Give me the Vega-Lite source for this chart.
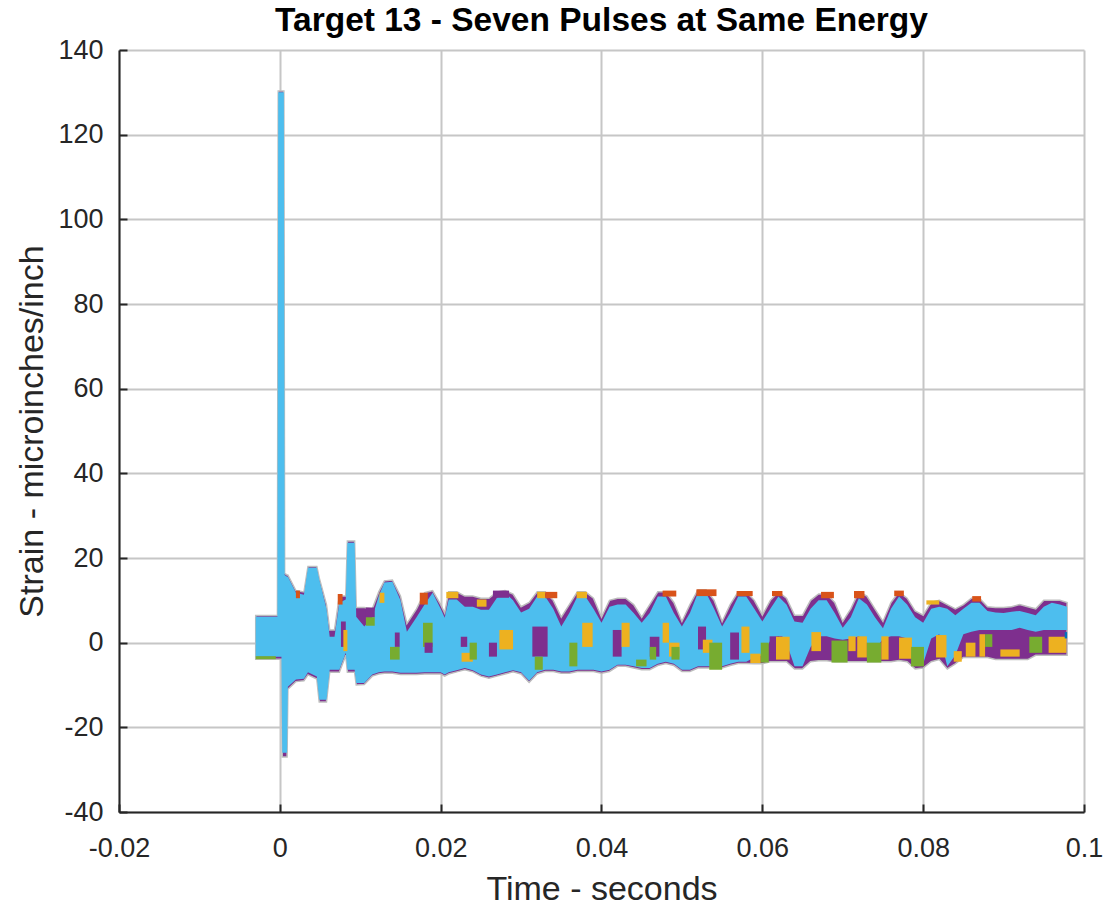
{
  "$schema": "https://vega.github.io/schema/vega-lite/v6.json",
  "width": 965,
  "height": 762,
  "autosize": {"type": "none"},
  "padding": {"left": 119, "top": 50, "right": 23, "bottom": 97},
  "background": "white",
  "title": {"text": "Target 13 - Seven Pulses at Same Energy", "font": "Liberation Sans", "fontSize": 33.5, "fontWeight": "bold", "color": "#000000", "anchor": "middle", "offset": -2},
  "config": {
    "view": {"stroke": null},
    "axis": {
      "labelFont": "Liberation Sans", "labelFontSize": 27, "labelColor": "#262626",
      "titleFont": "Liberation Sans", "titleFontSize": 34, "titleFontWeight": "normal", "titleColor": "#262626",
      "domainColor": "#262626", "domainWidth": 2, "tickColor": "#262626", "tickWidth": 2,
      "gridColor": "#c6c6c6", "gridWidth": 2, "gridOpacity": 1, "labelFlush": false, "labelOverlap": false
    }
  },
  "datasets": {
    "env": [
      {"t": -0.003, "T": 6.1, "B": -3.3, "U": 6.4, "L": -3.9},
      {"t": -0.002, "T": 6.1, "B": -3.3, "U": 6.4, "L": -3.9},
      {"t": -0.001, "T": 6.1, "B": -3.3, "U": 6.4, "L": -3.9},
      {"t": -0.0003, "T": 6.1, "B": -3.3, "U": 6.4, "L": -3.9},
      {"t": -0.0002, "T": 130, "B": -3.3, "U": 130.3, "L": -3.9},
      {"t": 0.0002, "T": 130, "B": -3.3, "U": 130.3, "L": -3.9},
      {"t": 0.0003, "T": 130, "B": -26, "U": 130.3, "L": -27},
      {"t": 0.0005, "T": 130, "B": -26, "U": 130.3, "L": -27},
      {"t": 0.0006, "T": 16, "B": -26, "U": 16.4, "L": -27},
      {"t": 0.0009, "T": 15.6, "B": -26, "U": 16, "L": -27},
      {"t": 0.001, "T": 15.6, "B": -10.4, "U": 16, "L": -11},
      {"t": 0.002, "T": 11.8, "B": -8.7, "U": 12.3, "L": -9.2},
      {"t": 0.003, "T": 11.3, "B": -8.5, "U": 12, "L": -9},
      {"t": 0.0035, "T": 17.7, "B": -7, "U": 18, "L": -7.6},
      {"t": 0.0046, "T": 17.7, "B": -8, "U": 18, "L": -8.6},
      {"t": 0.0049, "T": 14.9, "B": -13.5, "U": 15.3, "L": -14},
      {"t": 0.0058, "T": 8, "B": -13.5, "U": 9, "L": -14},
      {"t": 0.0062, "T": 1.4, "B": -6.4, "U": 3, "L": -7},
      {"t": 0.0068, "T": 1.4, "B": -6.4, "U": 3, "L": -7},
      {"t": 0.0074, "T": 9.4, "B": -6.4, "U": 11, "L": -7},
      {"t": 0.0082, "T": 10.2, "B": -2.4, "U": 11, "L": -3},
      {"t": 0.0084, "T": 23.6, "B": -6.4, "U": 24, "L": -7},
      {"t": 0.0093, "T": 23.6, "B": -6.4, "U": 24, "L": -7},
      {"t": 0.0095, "T": 6.1, "B": -9.5, "U": 8.3, "L": -10},
      {"t": 0.0105, "T": 3.8, "B": -9.5, "U": 8.3, "L": -9.9},
      {"t": 0.0115, "T": 6, "B": -7.5, "U": 8, "L": -7.9},
      {"t": 0.0123, "T": 11, "B": -7, "U": 12, "L": -7.4},
      {"t": 0.013, "T": 14.2, "B": -6.8, "U": 14.6, "L": -7.2},
      {"t": 0.014, "T": 14.4, "B": -6.8, "U": 14.8, "L": -7.2},
      {"t": 0.015, "T": 10, "B": -7.1, "U": 11, "L": -7.5},
      {"t": 0.0158, "T": 2.6, "B": -7.1, "U": 4.5, "L": -7.5},
      {"t": 0.017, "T": 6, "B": -7.1, "U": 8, "L": -7.5},
      {"t": 0.018, "T": 9, "B": -7, "U": 11.8, "L": -7.4},
      {"t": 0.019, "T": 11.8, "B": -7, "U": 12.3, "L": -7.4},
      {"t": 0.02, "T": 8, "B": -7, "U": 9, "L": -7.4},
      {"t": 0.0205, "T": 5.9, "B": -7.5, "U": 7, "L": -7.9},
      {"t": 0.021, "T": 10.2, "B": -7, "U": 12, "L": -7.4},
      {"t": 0.022, "T": 10.2, "B": -6.5, "U": 12, "L": -6.9},
      {"t": 0.023, "T": 8.5, "B": -6, "U": 11, "L": -6.4},
      {"t": 0.024, "T": 8.5, "B": -6.5, "U": 11, "L": -6.9},
      {"t": 0.025, "T": 7.8, "B": -7.5, "U": 10.5, "L": -7.9},
      {"t": 0.026, "T": 7.8, "B": -8, "U": 10.5, "L": -8.4},
      {"t": 0.027, "T": 10.6, "B": -7.5, "U": 12, "L": -7.9},
      {"t": 0.028, "T": 11.8, "B": -7, "U": 12.3, "L": -7.4},
      {"t": 0.029, "T": 10, "B": -6.5, "U": 11.5, "L": -6.9},
      {"t": 0.03, "T": 7.1, "B": -7, "U": 8.5, "L": -7.4},
      {"t": 0.031, "T": 8, "B": -9, "U": 9.5, "L": -9.4},
      {"t": 0.032, "T": 10.9, "B": -7, "U": 12, "L": -7.4},
      {"t": 0.033, "T": 10.9, "B": -6.4, "U": 12, "L": -6.8},
      {"t": 0.034, "T": 8, "B": -6.4, "U": 10, "L": -6.8},
      {"t": 0.035, "T": 3.8, "B": -6.8, "U": 6, "L": -7.2},
      {"t": 0.036, "T": 7, "B": -6.8, "U": 9, "L": -7.2},
      {"t": 0.037, "T": 10.9, "B": -6.4, "U": 12, "L": -6.8},
      {"t": 0.038, "T": 10.9, "B": -6.4, "U": 12, "L": -6.8},
      {"t": 0.039, "T": 8, "B": -6.4, "U": 10.5, "L": -6.8},
      {"t": 0.04, "T": 4.7, "B": -6.8, "U": 6, "L": -7.2},
      {"t": 0.041, "T": 8.5, "B": -6.4, "U": 10, "L": -6.8},
      {"t": 0.042, "T": 9, "B": -5.2, "U": 10.5, "L": -5.6},
      {"t": 0.043, "T": 9, "B": -5.2, "U": 10.5, "L": -5.6},
      {"t": 0.044, "T": 7, "B": -5.6, "U": 9, "L": -6},
      {"t": 0.045, "T": 4.7, "B": -6, "U": 6, "L": -6.4},
      {"t": 0.046, "T": 7, "B": -6, "U": 9, "L": -6.4},
      {"t": 0.047, "T": 10.9, "B": -5, "U": 12, "L": -5.4},
      {"t": 0.048, "T": 10.9, "B": -4.5, "U": 12, "L": -4.9},
      {"t": 0.049, "T": 7, "B": -5, "U": 9.5, "L": -5.4},
      {"t": 0.05, "T": 3.8, "B": -6.4, "U": 5, "L": -6.8},
      {"t": 0.051, "T": 7, "B": -6.4, "U": 9, "L": -6.8},
      {"t": 0.052, "T": 11.8, "B": -5.6, "U": 12.5, "L": -6},
      {"t": 0.053, "T": 11.8, "B": -5.6, "U": 12.5, "L": -6},
      {"t": 0.054, "T": 8, "B": -5.6, "U": 10, "L": -6},
      {"t": 0.055, "T": 3.8, "B": -5.6, "U": 5, "L": -6},
      {"t": 0.056, "T": 7, "B": -5, "U": 9, "L": -5.4},
      {"t": 0.057, "T": 10.9, "B": -4.5, "U": 12, "L": -4.9},
      {"t": 0.058, "T": 10.9, "B": -4.5, "U": 12, "L": -4.9},
      {"t": 0.059, "T": 8, "B": -3.5, "U": 10, "L": -5},
      {"t": 0.06, "T": 5, "B": -3, "U": 6.5, "L": -5},
      {"t": 0.061, "T": 8, "B": 0.5, "U": 10, "L": -4.5},
      {"t": 0.062, "T": 10.9, "B": 1.5, "U": 12, "L": -4.5},
      {"t": 0.063, "T": 9, "B": 0, "U": 10.5, "L": -4.5},
      {"t": 0.064, "T": 5, "B": -5.6, "U": 6.5, "L": -6.2},
      {"t": 0.065, "T": 4.7, "B": -5.6, "U": 6.5, "L": -6.2},
      {"t": 0.066, "T": 8, "B": -1, "U": 10, "L": -4.5},
      {"t": 0.067, "T": 10, "B": 1.5, "U": 11.5, "L": -4.3},
      {"t": 0.068, "T": 10, "B": 1.5, "U": 11.5, "L": -4.3},
      {"t": 0.069, "T": 7, "B": 1, "U": 9.5, "L": -4.5},
      {"t": 0.07, "T": 3.5, "B": 0.7, "U": 5, "L": -4.5},
      {"t": 0.071, "T": 6, "B": 1, "U": 8, "L": -4.5},
      {"t": 0.072, "T": 10.5, "B": 1.5, "U": 12, "L": -4.5},
      {"t": 0.073, "T": 9, "B": 0, "U": 11, "L": -4.5},
      {"t": 0.074, "T": 6, "B": -2, "U": 8, "L": -4.5},
      {"t": 0.075, "T": 3.4, "B": 1, "U": 5, "L": -4.5},
      {"t": 0.076, "T": 8, "B": 1.5, "U": 9.5, "L": -4.5},
      {"t": 0.077, "T": 10.9, "B": 1.5, "U": 12, "L": -4.2},
      {"t": 0.078, "T": 9, "B": 1, "U": 10.5, "L": -4.5},
      {"t": 0.079, "T": 6, "B": -5.6, "U": 7.5, "L": -6.2},
      {"t": 0.08, "T": 4.7, "B": -5, "U": 6.5, "L": -6},
      {"t": 0.081, "T": 8, "B": 1, "U": 9.5, "L": -4.5},
      {"t": 0.082, "T": 8.5, "B": 2, "U": 10, "L": -4},
      {"t": 0.083, "T": 8, "B": -5.6, "U": 9, "L": -6.2},
      {"t": 0.084, "T": 6.5, "B": -3, "U": 8, "L": -5},
      {"t": 0.085, "T": 8, "B": 2, "U": 9, "L": -3.5},
      {"t": 0.086, "T": 9.4, "B": 2.6, "U": 10.5, "L": -3.5},
      {"t": 0.087, "T": 9.4, "B": 3, "U": 10.5, "L": -3.5},
      {"t": 0.088, "T": 7.5, "B": 3, "U": 8.5, "L": -3.5},
      {"t": 0.089, "T": 7.1, "B": 3, "U": 8.3, "L": -4},
      {"t": 0.09, "T": 7, "B": 3, "U": 8.3, "L": -4},
      {"t": 0.091, "T": 7.3, "B": 3, "U": 8.5, "L": -4},
      {"t": 0.092, "T": 7.5, "B": 3.5, "U": 9, "L": -4},
      {"t": 0.093, "T": 7, "B": 3, "U": 8.5, "L": -4},
      {"t": 0.094, "T": 6.5, "B": 2.6, "U": 8, "L": -3},
      {"t": 0.095, "T": 8.5, "B": 3, "U": 10, "L": -3},
      {"t": 0.096, "T": 9.4, "B": 3, "U": 10, "L": -3},
      {"t": 0.097, "T": 9, "B": 3, "U": 10, "L": -3},
      {"t": 0.0979, "T": 8.5, "B": 3, "U": 9.5, "L": -3}
    ],
    "isl": [
      {"a": -0.003, "b": -0.0005, "lo": -3.9, "hi": -3.2, "c": "G"},
      {"a": 0.002, "b": 0.0025, "lo": 10.5, "hi": 12.3, "c": "O"},
      {"a": 0.0072, "b": 0.0078, "lo": 9, "hi": 11.5, "c": "O"},
      {"a": 0.0076, "b": 0.0082, "lo": -1, "hi": 5, "c": "P"},
      {"a": 0.0079, "b": 0.0084, "lo": -2, "hi": 3, "c": "Y"},
      {"a": 0.0107, "b": 0.0118, "lo": 6, "hi": 8.3, "c": "P"},
      {"a": 0.0107, "b": 0.0118, "lo": 4, "hi": 6, "c": "G"},
      {"a": 0.0124, "b": 0.013, "lo": 9.4, "hi": 11.8, "c": "Y"},
      {"a": 0.0143, "b": 0.0149, "lo": -1, "hi": 2.4, "c": "P"},
      {"a": 0.0137, "b": 0.0149, "lo": -4, "hi": -1, "c": "G"},
      {"a": 0.0174, "b": 0.0184, "lo": 9, "hi": 11.8, "c": "O"},
      {"a": 0.0178, "b": 0.019, "lo": -1, "hi": 4.7, "c": "G"},
      {"a": 0.018, "b": 0.019, "lo": -2.4, "hi": 0, "c": "P"},
      {"a": 0.0207, "b": 0.0222, "lo": 10.5, "hi": 12, "c": "Y"},
      {"a": 0.0225, "b": 0.0233, "lo": -1, "hi": 1.4, "c": "P"},
      {"a": 0.0226, "b": 0.024, "lo": -4.5, "hi": -2.4, "c": "Y"},
      {"a": 0.0236, "b": 0.0245, "lo": -4, "hi": 0, "c": "G"},
      {"a": 0.0245, "b": 0.0257, "lo": 8.5, "hi": 10.2, "c": "Y"},
      {"a": 0.026, "b": 0.027, "lo": -3.3, "hi": 0, "c": "P"},
      {"a": 0.0273, "b": 0.029, "lo": -1.6, "hi": 3, "c": "Y"},
      {"a": 0.0265, "b": 0.0285, "lo": 10.6, "hi": 12.3, "c": "P"},
      {"a": 0.0314, "b": 0.0333, "lo": -3.3, "hi": 3.8, "c": "P"},
      {"a": 0.0317, "b": 0.0327, "lo": -6.4, "hi": -3.3, "c": "G"},
      {"a": 0.032, "b": 0.033, "lo": 10.5, "hi": 12, "c": "Y"},
      {"a": 0.033, "b": 0.0345, "lo": 10.5, "hi": 12, "c": "O"},
      {"a": 0.036, "b": 0.037, "lo": -5.6, "hi": 0, "c": "G"},
      {"a": 0.0369, "b": 0.0382, "lo": 10.5, "hi": 12, "c": "Y"},
      {"a": 0.0376, "b": 0.0389, "lo": -1, "hi": 4.7, "c": "Y"},
      {"a": 0.0414, "b": 0.0425, "lo": -3.3, "hi": 3, "c": "P"},
      {"a": 0.0425, "b": 0.0435, "lo": -1, "hi": 4.7, "c": "Y"},
      {"a": 0.0443, "b": 0.0456, "lo": -5.6, "hi": -4, "c": "G"},
      {"a": 0.046, "b": 0.0472, "lo": -3.3, "hi": 1.4, "c": "P"},
      {"a": 0.046, "b": 0.0468, "lo": -4, "hi": -1, "c": "G"},
      {"a": 0.0476, "b": 0.0493, "lo": 10.9, "hi": 12.3, "c": "O"},
      {"a": 0.0476, "b": 0.0484, "lo": 0, "hi": 4.7, "c": "Y"},
      {"a": 0.0484, "b": 0.0497, "lo": -3.3, "hi": 0, "c": "Y"},
      {"a": 0.0487, "b": 0.0497, "lo": -4, "hi": -1, "c": "G"},
      {"a": 0.0518, "b": 0.0543, "lo": 11, "hi": 12.6, "c": "O"},
      {"a": 0.052, "b": 0.053, "lo": -1.6, "hi": 3.8, "c": "P"},
      {"a": 0.0526, "b": 0.0538, "lo": -2.4, "hi": 0.7, "c": "Y"},
      {"a": 0.0534, "b": 0.055, "lo": -6.4, "hi": 0, "c": "G"},
      {"a": 0.056, "b": 0.0571, "lo": -4, "hi": 2.4, "c": "P"},
      {"a": 0.0568, "b": 0.0588, "lo": 11, "hi": 12.2, "c": "O"},
      {"a": 0.0574, "b": 0.0584, "lo": -2.4, "hi": 3.8, "c": "Y"},
      {"a": 0.0585, "b": 0.0598, "lo": -4.8, "hi": -2.6, "c": "Y"},
      {"a": 0.0598, "b": 0.0608, "lo": -4.7, "hi": 0, "c": "G"},
      {"a": 0.0609, "b": 0.0625, "lo": -2.4, "hi": 1.5, "c": "P"},
      {"a": 0.0617, "b": 0.0634, "lo": -4, "hi": 1.4, "c": "Y"},
      {"a": 0.0612, "b": 0.0625, "lo": 11, "hi": 12.2, "c": "O"},
      {"a": 0.0661, "b": 0.0673, "lo": -2, "hi": 2.5, "c": "Y"},
      {"a": 0.0673, "b": 0.0689, "lo": 10.5, "hi": 12, "c": "O"},
      {"a": 0.0686, "b": 0.0706, "lo": -4.7, "hi": 0.5, "c": "G"},
      {"a": 0.0707, "b": 0.0716, "lo": -2, "hi": 1.5, "c": "Y"},
      {"a": 0.0718, "b": 0.073, "lo": -3.5, "hi": 1.5, "c": "Y"},
      {"a": 0.0714, "b": 0.0727, "lo": 10.5, "hi": 12.2, "c": "O"},
      {"a": 0.073, "b": 0.0748, "lo": -4.7, "hi": 0, "c": "G"},
      {"a": 0.0748, "b": 0.0757, "lo": -4, "hi": 1.5, "c": "Y"},
      {"a": 0.0764, "b": 0.0776, "lo": 11, "hi": 12.3, "c": "O"},
      {"a": 0.077, "b": 0.0786, "lo": -3.8, "hi": 1.2, "c": "Y"},
      {"a": 0.0785, "b": 0.0801, "lo": -5.6, "hi": -1, "c": "G"},
      {"a": 0.0816, "b": 0.0829, "lo": -3.5, "hi": 1.8, "c": "Y"},
      {"a": 0.0804, "b": 0.082, "lo": 9, "hi": 10, "c": "Y"},
      {"a": 0.0838, "b": 0.0848, "lo": -4.5, "hi": -2, "c": "Y"},
      {"a": 0.0853, "b": 0.0865, "lo": -3.3, "hi": 0, "c": "Y"},
      {"a": 0.0861, "b": 0.0872, "lo": 9.7, "hi": 11, "c": "O"},
      {"a": 0.087, "b": 0.0877, "lo": -3.3, "hi": 2, "c": "Y"},
      {"a": 0.0877, "b": 0.0886, "lo": -1, "hi": 2, "c": "G"},
      {"a": 0.0896, "b": 0.092, "lo": -3.3, "hi": -1.6, "c": "Y"},
      {"a": 0.0932, "b": 0.0948, "lo": -2.4, "hi": 1.4, "c": "G"},
      {"a": 0.0956, "b": 0.0978, "lo": -2.4, "hi": 1.4, "c": "Y"},
      {"a": 0.0976, "b": 0.0979, "lo": 1, "hi": 2.5, "c": "B"}
    ]
  },
  "layer": [
    {
      "data": {"name": "env"},
      "mark": {"type": "area", "interpolate": "linear", "fill": "#7E2F8E", "stroke": "#bdbdbd", "strokeWidth": 1.5},
      "encoding": {
        "x": {"field": "t", "type": "quantitative", "scale": {"domain": [-0.02, 0.1], "nice": false, "zero": false},
          "axis": {"values": [-0.02, 0, 0.02, 0.04, 0.06, 0.08, 0.1], "title": "Time - seconds", "grid": true, "tickSize": -8, "labelPadding": 31, "titlePadding": 11,
            "labelExpr": "datum.value < 0 ? '-' + format(-datum.value, '~g') : format(datum.value, '~g')"}},
        "y": {"field": "L", "type": "quantitative", "scale": {"domain": [-40, 140], "nice": false, "zero": false},
          "axis": {"values": [-40, -20, 0, 20, 40, 60, 80, 100, 120, 140], "title": "Strain - microinches/inch", "grid": true, "tickSize": -8, "labelPadding": 24, "titlePadding": 8,
            "labelExpr": "datum.value < 0 ? '-' + format(-datum.value, '~g') : format(datum.value, '~g')"}},
        "y2": {"field": "U"}
      }
    },
    {
      "data": {"name": "env"},
      "mark": {"type": "area", "interpolate": "linear", "fill": "#4DBEEE"},
      "encoding": {
        "x": {"field": "t", "type": "quantitative"},
        "y": {"field": "B", "type": "quantitative"},
        "y2": {"field": "T"}
      }
    },
    {
      "data": {"name": "isl"},
      "mark": {"type": "rect"},
      "encoding": {
        "x": {"field": "a", "type": "quantitative"},
        "x2": {"field": "b"},
        "y": {"field": "lo", "type": "quantitative"},
        "y2": {"field": "hi"},
        "color": {"field": "c", "type": "nominal", "legend": null,
          "scale": {"domain": ["P", "Y", "G", "O", "B"], "range": ["#7E2F8E", "#EDB120", "#77AC30", "#D95319", "#0072BD"]}}
      }
    }
  ]
}
